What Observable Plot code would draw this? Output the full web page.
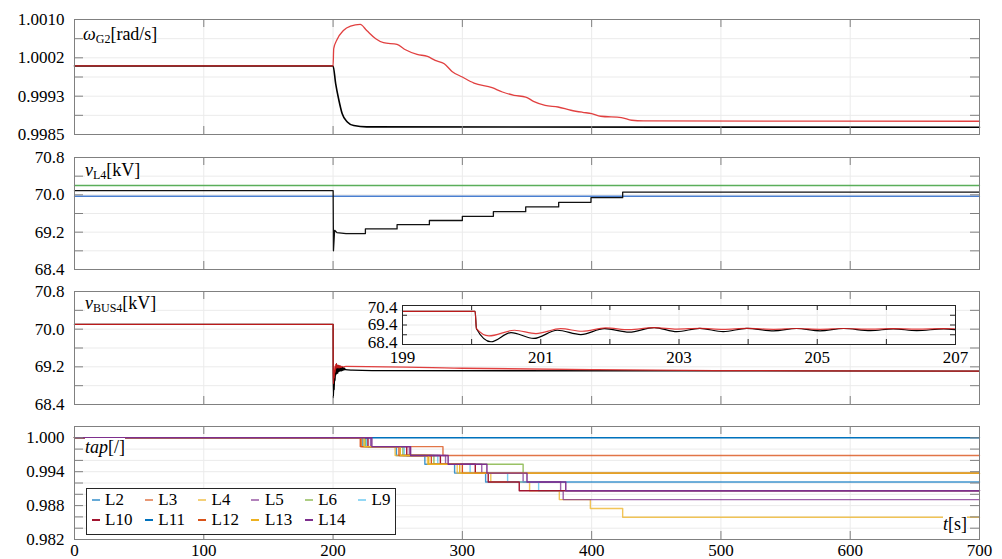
<!DOCTYPE html>
<html><head><meta charset="utf-8">
<script src="https://cdn.jsdelivr.net/npm/d3@7"></script>
<script src="https://cdn.jsdelivr.net/npm/@observablehq/plot@0.6"></script>
<style>
body{margin:0;background:#fff;}
#wrap{position:relative;width:1002px;height:559px;overflow:visible;font-family:"Liberation Serif","Times New Roman",Tinos,"DejaVu Serif","Noto Serif",serif;color:#000;}
#wrap svg, #wrap svg text, #wrap svg tspan, #wrap svg g{font-family:"Liberation Serif","Times New Roman",Tinos,"DejaVu Serif","Noto Serif",serif !important;font-variant:normal !important;}
.lab{position:absolute;font-size:18px;line-height:18px;background:#fff;white-space:nowrap;color:#000;}
.lab i{font-style:italic;}
.lab sub{font-size:12px;vertical-align:-3px;line-height:0;font-style:normal;}
.lg{position:absolute;font-size:17px;line-height:17px;white-space:nowrap;color:#000;}
</style></head><body><div id="wrap"></div><script>
// ---------- DATA ----------
const tGrid = [0, 100, 200, 300, 400, 500, 600, 700];

// Panel 1: omega_G2 [rad/s]
const omegaGrid = [0.9985, 0.998917, 0.999333, 0.99975, 1.000167, 1.000583, 1.0010];
const omegaTicks = [0.9985, 0.999333, 1.000167, 1.0010];
const omegaBlack = [[0,0.99999],[200,0.99999],[202,0.999606],[204.5,0.999244],[207,0.998955],[211,0.998773],[216,0.998695],[226,0.998665],[700,0.998658]];
const omegaRed = [[0,0.99999],[200,0.99999],[200.5,1.000365],[203,1.00056],[208,1.000761],[213.5,1.000855],[221,1.000892],[226,1.000761],[233,1.000582],[239,1.000495],[249.5,1.000458],[256,1.000343],[265,1.000241],[273,1.000198],[279,1.000111],[286,1.000039],[292,0.999872],[300,0.999749],[309,0.999619],[323,0.999519],[331,0.999424],[340,0.999352],[349,0.999315],[355,0.999222],[364,0.999135],[374,0.999098],[384,0.999027],[393,0.998983],[400,0.998955],[407,0.998897],[423,0.998869],[431,0.99881],[440,0.998795],[700,0.998788]];

// Panel 2: v_L4 [kV]
const kvGrid = [68.4, 68.8, 69.2, 69.6, 70.0, 70.4, 70.8];
const kvTicks = [68.4, 69.2, 70.0, 70.8];
const vL4Green = [[0,70.2],[700,70.2]];
const vL4Blue = [[0,69.97],[700,69.97]];
const vL4Black = [[0,70.09],[200.05,70.09],[200.3,68.8],[201.2,69.24],[203,69.19],[210,69.17],[225,69.17],[225,69.27],[249.5,69.27],[249.5,69.36],[274.5,69.36],[274.5,69.45],[300,69.45],[300,69.54],[324,69.54],[324,69.64],[349,69.64],[349,69.74],[374.5,69.74],[374.5,69.84],[399.5,69.84],[399.5,69.94],[424,69.94],[424,70.06],[700,70.06]];

// Panel 3: v_BUS4 [kV]
const bus4Black = [[0,70.1],[200.05,70.1],[200.07,69.21],[200.28,68.54],[200.57,69.01],[200.9,68.71],[201.24,69.13],[201.58,68.91],[201.92,69.21],[202.28,69.03],[202.64,69.27],[202.97,69.06],[203.3,69.23],[203.64,69.06],[203.98,69.23],[204.37,69.1],[204.7,69.22],[205.04,69.1],[205.38,69.22],[205.77,69.11],[206.1,69.2],[206.44,69.11],[206.83,69.2],[207.17,69.12],[207.5,69.19],[207.84,69.13],[208.17,69.18],[208.5,69.13],[208.84,69.17],[209.5,69.14],[215,69.13],[230,69.12],[700,69.11]];
const bus4Red = [[0,70.1],[200.05,70.1],[200.07,69.21],[200.25,68.84],[200.62,69.13],[200.93,68.96],[201.29,69.21],[201.6,69.08],[201.94,69.25],[202.28,69.16],[202.64,69.27],[202.97,69.19],[203.3,69.23],[203.64,69.18],[203.98,69.23],[204.37,69.18],[204.7,69.22],[205.04,69.18],[205.38,69.22],[205.77,69.19],[206.1,69.21],[206.44,69.19],[206.83,69.21],[207.5,69.2],[210,69.21],[300,69.17],[400,69.14],[500,69.12],[700,69.11]];
// inset
const insetXGrid = [199, 200, 201, 202, 203, 204, 205, 206, 207];
const insetXTicks = [199, 201, 203, 205, 207];
const insetYGrid = [68.4, 68.9, 69.4, 69.9, 70.4];
const insetYTop = [70.4], insetYMid = [69.4], insetYBot = [68.4];

// Panel 4: tap [/]
const tapGrid = [0.982, 0.984, 0.986, 0.988, 0.990, 0.992, 0.994, 0.996, 0.998, 1.000, 1.002];
const tapTicks = [0.982, 0.988, 0.994, 1.000];
const tapL2  = [[0,1],[223,0.99844],[249,0.99688],[271,0.99531],[294,0.99375],[318,0.99219],[700,0.99219]];
const tapL3  = [[0,1],[221,0.99844],[285,0.99688],[700,0.99688]];
const tapL4  = [[0,1],[222,0.99844],[248,0.99688],[273,0.99531],[296,0.99375],[322,0.99219],[352,0.99063],[375,0.98906],[399,0.9875],[424,0.98594],[700,0.98594]];
const tapL5  = [[0,1],[229,0.99844],[259,0.99688],[287,0.99531],[315,0.99375],[347,0.99219],[376,0.99063],[378,0.98906],[700,0.98906]];
const tapL6  = [[0,1],[225,0.99844],[254,0.99688],[278,0.99531],[347,0.99375],[700,0.99375]];
const tapL9  = [[0,1],[226,0.99844],[255,0.99688],[281,0.99531],[306,0.99375],[335,0.99219],[359,0.99063],[700,0.99063]];
const tapL10 = [[0,1],[227,0.99844],[257,0.99688],[283,0.99531],[310,0.99375],[320,0.99219],[344,0.99063],[700,0.99063]];
const tapL11 = [[0,1],[700,1]];
const tapL12 = [[0,1],[221.5,0.99844],[251,0.99688],[276,0.99531],[300,0.99375],[700,0.99375]];
const tapL13 = [[0,1],[224,0.99844],[252,0.99688],[274,0.99531],[298,0.99375],[700,0.99375]];
const tapL14 = [[0,1],[230,0.99844],[260,0.99688],[289,0.99531],[319,0.99375],[350,0.99219],[380,0.99063],[700,0.99063]];
const tapNames = ["L2","L3","L4","L5","L6","L9","L10","L11","L12","L13","L14"];
const tapSeries = [tapL2,tapL3,tapL4,tapL5,tapL6,tapL9,tapL10,tapL11,tapL12,tapL13,tapL14];

// ---------- STYLE ----------
const tapColors = ["#0072BD","#D95319","#EDB120","#7E2F8E","#77AC30","#4DBEEE","#A2142F","#0072BD","#D95319","#EDB120","#7E2F8E"];
const tapLineOpac = [0.75,0.8,0.75,0.75,0.75,0.75,1,1,1,1,1];
const tapLegOpac = [0.6,0.6,0.6,0.6,0.6,0.6,1,1,1,1,1];
const RED = "#dc1e1e", GRID = "#ebebeb", AX = "#808080";
const FONT = '"Liberation Serif","Times New Roman",Tinos,"DejaVu Serif","Noto Serif",serif';
const W = 1002, ML = 74, MR = 23, FW = W - ML - MR;
const wrap = document.getElementById("wrap");
const X = d => d[0], Y = d => d[1];
const baseStyle = {fontFamily: FONT, fontSize: "17px", color: "#000", background: "transparent", overflow: "visible"};

function panel({top, height, mt, mb, yDomain, yGrid, yTicks, yFmt, lines, xAxis}) {
  const FH = height - mt - mb;
  const marks = [
    Plot.ruleX(tGrid, {x: d => d, stroke: GRID}),
    Plot.ruleY(yGrid, {y: d => d, stroke: GRID}),
    ...lines,
    Plot.frame({stroke: AX}),
    Plot.tickY(yGrid, {y: d => d, stroke: AX, insetRight: FW - 9}),
    Plot.tickY(yGrid, {y: d => d, stroke: AX, insetLeft: FW - 9}),
    Plot.tickX(tGrid, {x: d => d, stroke: AX, insetBottom: FH - 8}),
    Plot.tickX(tGrid, {x: d => d, stroke: AX, insetTop: FH - 8}),
    Plot.axisY({ticks: yTicks, tickSize: 0, tickPadding: 10, tickFormat: yFmt, anchor: "left"})
  ];
  if (xAxis) marks.push(Plot.axisX({ticks: tGrid, tickSize: 0, tickPadding: 4, anchor: "bottom", tickFormat: d => String(d)}));
  const svg = Plot.plot({
    width: W, height, marginLeft: ML, marginRight: MR, marginTop: mt, marginBottom: mb,
    x: {domain: [0, 700], axis: null}, y: {domain: yDomain, axis: null},
    style: baseStyle, marks
  });
  svg.style.position = "absolute"; svg.style.top = top + "px"; svg.style.left = "0px";
  wrap.appendChild(svg);
}

// Panel 1
panel({top: 0, height: 140, mt: 19, mb: 6, yDomain: [0.9985, 1.0010], yGrid: omegaGrid, yTicks: omegaTicks, yFmt: d3.format(".4f"),
  lines: [
    Plot.line(omegaBlack, {x: X, y: Y, stroke: "#000", strokeWidth: 1.6, curve: "monotone-x"}),
    Plot.line(omegaRed, {x: X, y: Y, stroke: RED, strokeOpacity: 0.85, strokeWidth: 1.3, curve: "monotone-x"})
  ]});
// Panel 2
panel({top: 140, height: 135, mt: 17, mb: 6, yDomain: [68.4, 70.8], yGrid: kvGrid, yTicks: kvTicks, yFmt: d3.format(".1f"),
  lines: [
    Plot.line(vL4Green, {x: X, y: Y, stroke: "#5aae5a", strokeWidth: 1.3}),
    Plot.line(vL4Blue, {x: X, y: Y, stroke: "#4a7fd0", strokeWidth: 1.3}),
    Plot.line(vL4Black, {x: X, y: Y, stroke: "#111", strokeWidth: 1.3})
  ]});
// Panel 3
panel({top: 275, height: 135, mt: 16, mb: 6, yDomain: [68.4, 70.8], yGrid: kvGrid, yTicks: kvTicks, yFmt: d3.format(".1f"),
  lines: [
    Plot.line(bus4Black, {x: X, y: Y, stroke: "#000", strokeWidth: 1.3, curve: "monotone-x"}),
    Plot.line(bus4Red, {x: X, y: Y, stroke: RED, strokeOpacity: 0.85, strokeWidth: 1.3, curve: "monotone-x"})
  ]});
// Panel 4
panel({top: 410, height: 149, mt: 16, mb: 20, yDomain: [0.982, 1.002], yGrid: tapGrid, yTicks: tapTicks, yFmt: d3.format(".3f"), xAxis: true,
  lines: tapSeries.map((s, i) => Plot.line(s, {x: X, y: Y, stroke: tapColors[i], strokeOpacity: tapLineOpac[i], strokeWidth: 1.4, curve: "step-after"}))
});

// Inset
{
  const iw = 553, ih = 39, iml = 45, imr = 15, imt = 10, imb = 22;
  const f1 = d3.format(".1f");
  const svg = Plot.plot({
    width: iw + iml + imr, height: ih + imt + imb, marginLeft: iml, marginRight: imr, marginTop: imt, marginBottom: imb,
    x: {domain: [199, 207], axis: null}, y: {domain: [68.4, 70.4], axis: null},
    style: baseStyle,
    marks: [
      Plot.frame({fill: "#fff", stroke: null}),
      Plot.ruleX(insetXGrid, {x: d => d, stroke: GRID}),
      Plot.ruleY(insetYGrid, {y: d => d, stroke: GRID}),
      Plot.line(bus4Black, {x: X, y: Y, stroke: "#000", strokeWidth: 1.2, curve: "monotone-x", clip: true}),
      Plot.line(bus4Red, {x: X, y: Y, stroke: RED, strokeOpacity: 0.85, strokeWidth: 1.2, curve: "monotone-x", clip: true}),
      Plot.frame({stroke: "#262626"}),
      Plot.tickY(insetYGrid, {y: d => d, stroke: "#262626", insetRight: iw - 5}),
      Plot.tickY(insetYGrid, {y: d => d, stroke: "#262626", insetLeft: iw - 5}),
      Plot.tickX(insetXGrid, {x: d => d, stroke: "#262626", insetBottom: ih - 5}),
      Plot.tickX(insetXGrid, {x: d => d, stroke: "#262626", insetTop: ih - 5}),
      Plot.axisY({ticks: insetYTop, tickSize: 0, tickPadding: 5, tickFormat: f1, anchor: "left", dy: 2}),
      Plot.axisY({ticks: insetYMid, tickSize: 0, tickPadding: 5, tickFormat: f1, anchor: "left"}),
      Plot.axisY({ticks: insetYBot, tickSize: 0, tickPadding: 5, tickFormat: f1, anchor: "left", dy: -2}),
      Plot.axisX({ticks: insetXTicks, tickSize: 0, tickPadding: 6, tickFormat: d => String(d), anchor: "bottom"})
    ]
  });
  svg.style.position = "absolute"; svg.style.left = (402 - iml) + "px"; svg.style.top = (305 - imt) + "px";
  wrap.appendChild(svg);
}

// Panel labels (HTML text)
const labels = [
  {html: '<i>ω</i><sub>G2</sub>[rad/s]', left: 83, top: 24.5},
  {html: '<i>v</i><sub>L4</sub>[kV]', left: 85, top: 160.5},
  {html: '<i>v</i><sub>BUS4</sub>[kV]', left: 85, top: 294},
  {html: '<i>tap</i>[/]', left: 85, top: 438},
  {html: '<i>t</i>[s]', left: 943, top: 515}
];
labels.forEach(l => {
  const d = document.createElement("div");
  d.className = "lab"; d.innerHTML = l.html;
  d.style.left = l.left + "px"; d.style.top = l.top + "px";
  wrap.appendChild(d);
});

// Legend
{
  const box = document.createElement("div");
  box.style.cssText = "position:absolute;left:86px;top:488px;width:308px;height:45px;border:1px solid #262626;background:#fff;";
  tapNames.forEach((n, i) => {
    const row = i < 6 ? 0 : 1, col = i < 6 ? i : i - 6;
    const x0 = 4.5 + col * 53.3, yc = row ? 31 : 11;
    const sw = document.createElement("div");
    sw.style.cssText = `position:absolute;left:${x0}px;top:${yc - 1}px;width:8px;height:2px;background:${tapColors[i]};opacity:${tapLegOpac[i]};`;
    const tx = document.createElement("div");
    tx.className = "lg"; tx.textContent = n;
    tx.style.left = (x0 + 13.5) + "px"; tx.style.top = (yc - 8.7) + "px";
    box.appendChild(sw); box.appendChild(tx);
  });
  wrap.appendChild(box);
}
</script></body></html>
